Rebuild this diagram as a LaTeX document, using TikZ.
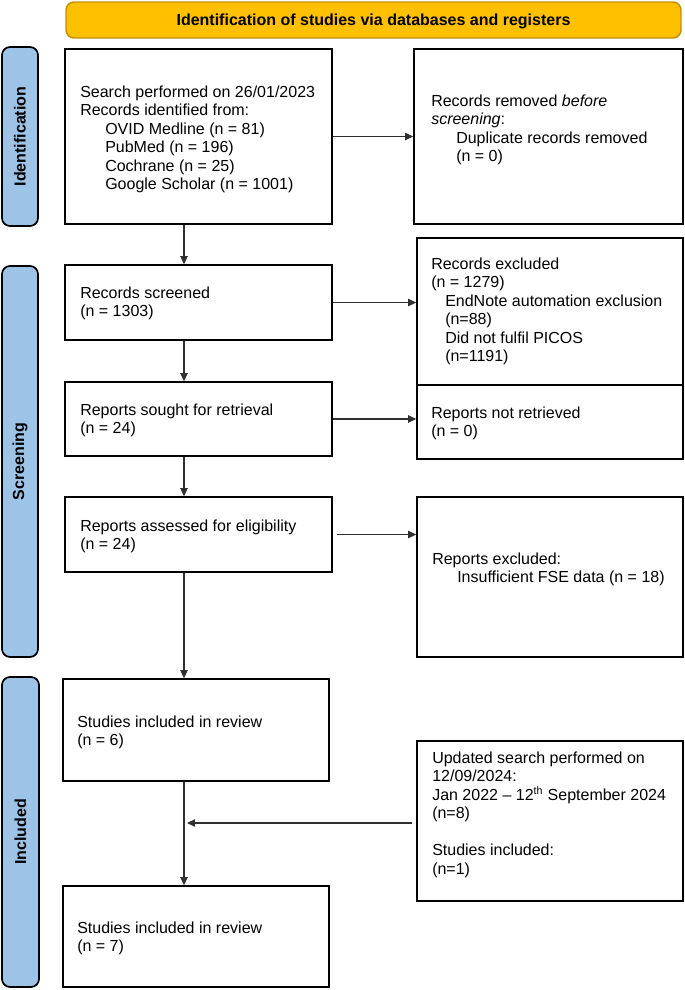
\documentclass[tikz,border=0pt]{standalone}
\usepackage{fontspec}
\setmainfont{Liberation Sans}
\usetikzlibrary{arrows.meta,fit,calc}
\definecolor{banfill}{HTML}{FFC000}
\definecolor{bandraw}{HTML}{BF9000}
\definecolor{sidefill}{HTML}{9DC3E6}
\definecolor{arrcol}{HTML}{303030}
\newcommand{\ind}{\hspace*{18.75pt}}
\newcommand{\indb}{\hspace*{10.5pt}}
\newcommand{\fl}{\rule{0pt}{12pt}}
\tikzset{
  box/.style={draw=black, line width=1.2pt, inner sep=0pt, fill=white},
  sidebox/.style={draw=black, line width=1.3pt, inner sep=0pt, fill=sidefill, rounded corners=6pt},
  sidetxt/.style={rotate=90, font=\fontsize{12}{14}\selectfont\bfseries, inner sep=0pt},
  txt/.style={anchor=north west, inner sep=0pt, align=left, font=\fontsize{12}{13.9}\selectfont},
  arr/.style={draw=arrcol, line width=0.8pt, -{Triangle[length=6pt,width=5.5pt]}},
}
\begin{document}
\begin{tikzpicture}[x=0.75pt,y=-0.75pt]
\useasboundingbox (0,0) rectangle (685,990);
% banner
\node[draw=bandraw, line width=1.1pt, fill=banfill, rounded corners=6pt, inner sep=0pt,
      fit={(66,2) (681,38)}] (ban) {};
\node[font=\fontsize{12}{14}\selectfont\bfseries, inner sep=0pt] (bantxt) at ($(ban.center)+(0,1)$) {Identification of studies via databases and registers};
% side labels
\node[sidebox, fit={(2,47) (38,226)}] (sid) {};
\node[sidetxt] (sidt) at (sid.center) {Identification};
\node[sidebox, fit={(2,266) (38,657)}] (sscr) {};
\node[sidetxt] (sscrt) at (sscr.center) {Screening};
\node[sidebox, fit={(2,677) (39,987)}] (sinc) {};
\node[sidetxt] (sinct) at (sinc.center) {Included};
% boxes
\node[box, fit={(65,49) (332,224)}] (b1) {};
\node[box, fit={(414,49) (683,224)}] (rem) {};
\node[box, fit={(65,265) (332,340)}] (scr) {};
\node[box, fit={(417,238) (683,385)}] (exc) {};
\node[box, fit={(65,382) (332,456)}] (sought) {};
\node[box, fit={(417,385) (683,459)}] (notret) {};
\node[box, fit={(65,497) (332,572)}] (assess) {};
\node[box, fit={(417,497) (683,657)}] (repexc) {};
\node[box, fit={(63,679) (329,781)}] (inc6) {};
\node[box, fit={(417,741) (683,901)}] (upd) {};
\node[box, fit={(63,886) (329,987)}] (inc7) {};
% texts
\node[txt] (t1) at (80,81) {\fl Search performed on 26/01/2023\\Records identified from:\\\ind OVID Medline (n = 81)\\\ind PubMed (n = 196)\\\ind Cochrane (n = 25)\\\ind Google Scholar (n = 1001)};
\node[txt] (trem) at (431,90) {\fl Records removed \textit{before}\\\textit{screening}:\\\ind Duplicate records removed\\\ind (n = 0)};
\node[txt] (tscr) at (80,282) {\fl Records screened\\(n = 1303)};
\node[txt] (texc) at (431,253) {\fl Records excluded\\(n = 1279)\\\indb EndNote automation exclusion\\\indb (n=88)\\\indb Did not fulfil PICOS\\\indb (n=1191)};
\node[txt] (tsought) at (80,399) {\fl Reports sought for retrieval\\(n = 24)};
\node[txt] (tnotret) at (431,402) {\fl Reports not retrieved\\(n = 0)};
\node[txt] (tassess) at (80,515) {\fl Reports assessed for eligibility\\(n = 24)};
\node[txt] (trepexc) at (432,548) {\fl Reports excluded:\\\ind Insufficient FSE data (n = 18)};
\node[txt] (tinc6) at (77,711) {\fl Studies included in review\\(n = 6)};
\node[txt] (tupd) at (432,747) {\fl Updated search performed on\\12/09/2024:\\Jan 2022 -- 12\textsuperscript{th} September 2024\\(n=8)\\\mbox{}\\Studies included:\\(n=1)};
\node[txt] (tinc7) at (77,917) {\fl Studies included in review\\(n = 7)};
% connectors
\draw[arr] (b1.south -| 184,0) -- (scr.north -| 184,0);
\draw[arr] (scr.south -| 184,0) -- (sought.north -| 184,0);
\draw[arr] (sought.south -| 184,0) -- (assess.north -| 184,0);
\draw[arr] (assess.south -| 184,0) -- (inc6.north -| 184,0);
\draw[arr] (inc6.south -| 184,0) -- (inc7.north -| 184,0);
\draw[arr] (b1.east) -- (b1.east -| rem.west);
\draw[arr] (scr.east) -- (scr.east -| exc.west);
\draw[arr] (sought.east) -- (sought.east -| notret.west);
\draw[arr] ([xshift=3pt]assess.east) -- (assess.east -| repexc.west);
\coordinate (m) at (187,823);
\draw[arr] ([xshift=-3pt]m -| upd.west) -- (m);
\end{tikzpicture}
\end{document}
